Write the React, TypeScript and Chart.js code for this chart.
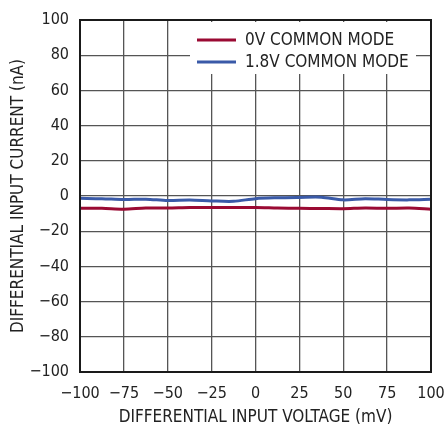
import React, { useEffect, useRef } from "react";
import { Chart, registerables } from "chart.js";

Chart.register(...registerables);

const xValues = [-100, -87.5, -75, -62.5, -50, -37.5, -25, -12.5, 0, 12.5, 25, 37.5, 50, 62.5, 75, 87.5, 100];
const series0V = [-7, -7, -7.5, -6.8, -6.8, -6.5, -6.5, -6.6, -6.5, -6.8, -7, -7.1, -7.2, -6.8, -7, -6.8, -7.5];
const series18V = [-1.3, -1.5, -2, -1.8, -2.6, -2.3, -2.8, -3, -1.5, -1, -0.8, -0.7, -2.2, -1.5, -2, -2.2, -1.8];
const xTicks = [-100, -75, -50, -25, 0, 25, 50, 75, 100];
const yTicks = [-100, -80, -60, -40, -20, 0, 20, 40, 60, 80, 100];
const legendLabels = ["0V COMMON MODE", "1.8V COMMON MODE"];
const colors = ["#9a0a33", "#3a5aa8"];

const FONT = "'Liberation Sans Narrow', 'DejaVu Sans Condensed', 'Roboto Condensed', sans-serif";

const fmt = (v: number) => (v < 0 ? "\u2212" + Math.abs(v) : String(v));

export default function App() {
  const ref = useRef<HTMLCanvasElement | null>(null);
  useEffect(() => {
    if (!ref.current) return;
    const framePlugin = {
      id: "frame",
      afterDraw(chart: any) {
        const { ctx, chartArea: a } = chart;
        ctx.save();
        const bx = 190, by = 22, bw = 226, bh = 52;
        ctx.fillStyle = "#ffffff";
        ctx.fillRect(bx, by, bw, bh);
        legendLabels.forEach((lab, i) => {
          const y = 40 + i * 22;
          ctx.strokeStyle = colors[i];
          ctx.lineWidth = 3;
          ctx.beginPath();
          ctx.moveTo(197, y);
          ctx.lineTo(236, y);
          ctx.stroke();
          ctx.fillStyle = "#222";
          ctx.font = `17px ${FONT}`;
          ctx.textBaseline = "middle";
          ctx.textAlign = "left";
          ctx.fillText(lab, 245, y + 1);
        });
        ctx.strokeStyle = "#1a1a1a";
        ctx.lineWidth = 2;
        ctx.strokeRect(a.left, a.top, a.right - a.left, a.bottom - a.top);
        ctx.restore();
      },
    };
    const chart = new Chart(ref.current, {
      type: "line",
      data: {
        datasets: [
          {
            label: legendLabels[0],
            data: xValues.map((x, i) => ({ x, y: series0V[i] })),
            borderColor: colors[0],
            borderWidth: 3,
            pointRadius: 0,
            tension: 0.3,
          },
          {
            label: legendLabels[1],
            data: xValues.map((x, i) => ({ x, y: series18V[i] })),
            borderColor: colors[1],
            borderWidth: 3,
            pointRadius: 0,
            tension: 0.3,
          },
        ],
      },
      options: {
        animation: false,
        responsive: false,
        layout: { padding: { left: 0, top: 20, right: 14, bottom: 0 } },
        plugins: { legend: { display: false }, tooltip: { enabled: false } },
        scales: {
          x: {
            type: "linear",
            min: -100,
            max: 100,
            afterBuildTicks: (s: any) => {
              s.ticks = xTicks.map((v) => ({ value: v }));
            },
            afterFit: (s: any) => {
              s.height = 57;
              s.paddingLeft = 0;
              s.paddingRight = 0;
            },
            ticks: {
              color: "#222",
              font: { family: FONT, size: 16 },
              padding: 12,
              maxRotation: 0,
              callback: (v: any) => fmt(Number(v)),
            },
            grid: { color: "#555", lineWidth: 1.3, drawTicks: false },
            border: { display: false },
            title: {
              display: true,
              text: "DIFFERENTIAL INPUT VOLTAGE (mV)",
              color: "#222",
              font: { family: FONT, size: 17 },
              padding: { top: 0, bottom: 1 },
            },
          },
          y: {
            type: "linear",
            min: -100,
            max: 100,
            afterBuildTicks: (s: any) => {
              s.ticks = yTicks.map((v) => ({ value: v }));
            },
            afterFit: (s: any) => {
              s.width = 80;
              s.paddingTop = 0;
              s.paddingBottom = 0;
            },
            ticks: {
              color: "#222",
              font: { family: FONT, size: 16 },
              padding: 11,
              callback: (v: any) => fmt(Number(v)),
            },
            grid: { color: "#555", lineWidth: 1.3, drawTicks: false },
            border: { display: false },
            title: {
              display: true,
              text: "DIFFERENTIAL INPUT CURRENT (nA)",
              color: "#222",
              font: { family: FONT, size: 17 },
              padding: { top: 8, bottom: 0 },
            },
          },
        },
      },
      plugins: [framePlugin],
    } as any);
    return () => chart.destroy();
  }, []);
  return (
    <div style={{ position: "fixed", left: 0, top: 0, width: 445, height: 429, background: "#fff" }}>
      <canvas ref={ref} width={445} height={429} style={{ width: 445, height: 429 }} />
    </div>
  );
}
